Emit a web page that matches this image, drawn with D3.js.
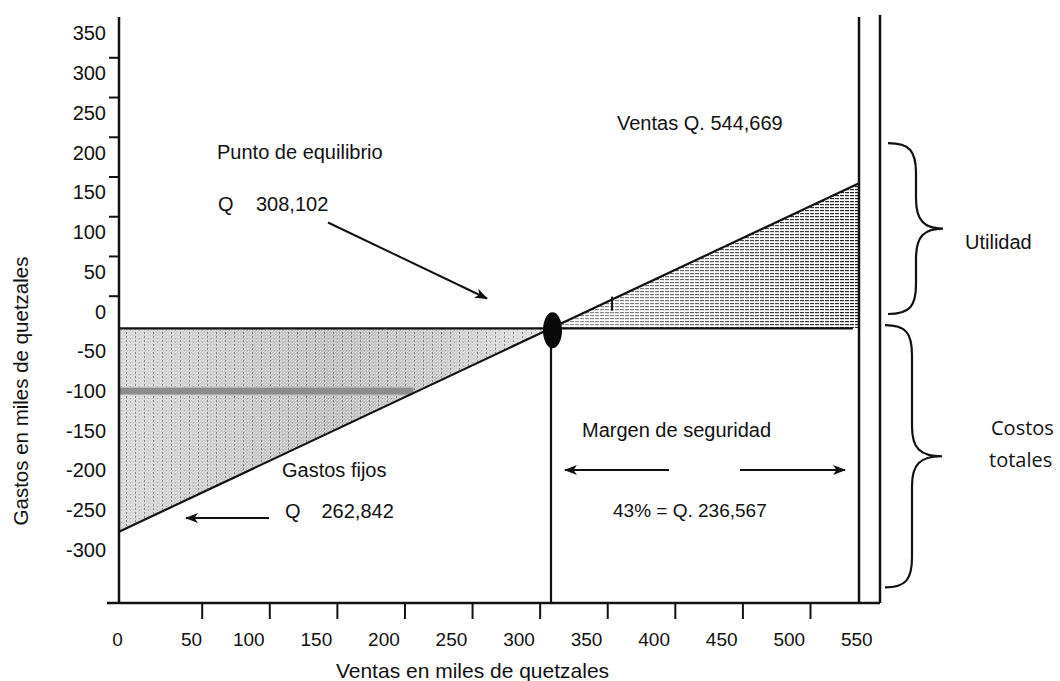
<!DOCTYPE html>
<html><head><meta charset="utf-8">
<script src="https://cdn.jsdelivr.net/npm/d3@7"></script>
<style>
html,body{margin:0;padding:0;background:#fff;}
svg{display:block;}
text{font-family:"Liberation Sans",Arial,sans-serif;fill:#111;}
</style>
</head><body>
<svg id="chart" width="1060" height="681"></svg>
<script>
// ---------- data ----------
const xLabelValues = [0,50,100,150,200,250,300,350,400,450,500,550];
const xTickValues  = [50,100,150,200,250,300,350,400,450,500];
const yLabelValues = [350,300,250,200,150,100,50,0,-50,-100,-150,-200,-250,-300];
const yTickValues  = [300,250,200,150,100,50,0];
const breakEvenX = 308.102;      // punto de equilibrio (miles Q)
const salesX     = 544.669;      // ventas (miles Q)
const costLevel  = -21;          // horizontal line level
const salesLineStart = -277;     // diagonal at x = 0
const salesLineEnd   = 161.5;    // diagonal at x = ventas
const hLineEndX  = 540;          // horizontal line right end
const bandY = -100, bandEndX = 210;   // dark band in fixed-cost area
const lineMarkX = 355;           // small mark on the diagonal
const utilidadSpan = [212, -3];
const costosSpan   = [-17, -347];

// ---------- setup ----------
const svg = d3.select("#chart");
const frame = {left:119, top:17, bottom:603, right:880, axisLeftExt:107};

const y  = d3.scaleLinear().domain([350,-300]).range([33.5,550]);
const yT = d3.scaleLinear().domain([300,0]).range([57.3,295.7]);
const x  = d3.scaleLinear().domain([0,breakEvenX,salesX]).range([119,551,859]);
const xL = d3.scaleLinear().domain([0,50,100,550]).range([117,191,248.3,856.3]);
const xT = d3.scaleLinear().domain([50,500]).range([201.7,810]);

const defs = svg.append("defs");
const gl = defs.append("linearGradient").attr("id","gradL").attr("gradientUnits","userSpaceOnUse")
  .attr("x1",x(0)).attr("x2",x(breakEvenX)).attr("y1",0).attr("y2",0);
[[0,"#d8d8d8"],[0.25,"#cbcbcb"],[0.5,"#bfbfbf"],[0.75,"#cacaca"],[1,"#e6e6e6"]]
  .forEach(d=>gl.append("stop").attr("offset",d[0]).attr("stop-color",d[1]));
const ps = defs.append("pattern").attr("id","streaks").attr("patternUnits","userSpaceOnUse")
  .attr("width",9).attr("height",4);
ps.append("rect").attr("x",0).attr("y",0).attr("width",1).attr("height",2).attr("fill","#666");
ps.append("rect").attr("x",4).attr("y",2).attr("width",1).attr("height",1).attr("fill","#888");
const pw = defs.append("pattern").attr("id","speck").attr("patternUnits","userSpaceOnUse")
  .attr("width",3).attr("height",3);
pw.append("rect").attr("x",1).attr("y",1).attr("width",1).attr("height",1).attr("fill","#fff");
pw.append("rect").attr("x",2).attr("y",0).attr("width",1).attr("height",1).attr("fill","#f4f4f4");
const ph = defs.append("pattern").attr("id","hatch").attr("patternUnits","userSpaceOnUse")
  .attr("width",5).attr("height",3);
ph.append("rect").attr("x",0).attr("y",0).attr("width",4).attr("height",1.2).attr("fill","#222");
const gm = defs.append("linearGradient").attr("id","gradM").attr("gradientUnits","userSpaceOnUse")
  .attr("x1",x(breakEvenX)).attr("x2",x(salesX)).attr("y1",0).attr("y2",0);
gm.append("stop").attr("offset",0).attr("stop-color","#fff").attr("stop-opacity",0.45);
gm.append("stop").attr("offset",1).attr("stop-color","#fff").attr("stop-opacity",1);
defs.append("mask").attr("id","maskR").append("rect")
  .attr("x",0).attr("y",0).attr("width",1060).attr("height",681).attr("fill","url(#gradM)");
defs.append("marker").attr("id","arr").attr("viewBox","0 0 13 10")
  .attr("refX",12).attr("refY",5).attr("markerWidth",13).attr("markerHeight",10)
  .attr("markerUnits","userSpaceOnUse").attr("orient","auto")
  .append("path").attr("d","M0,0 L13,5 L0,10 L3.5,5 Z").attr("fill","#111");

const lineY = v => salesLineStart + (salesLineEnd - salesLineStart) * (v / salesX);

// ---------- areas ----------
const leftTri = [[0,costLevel],[breakEvenX,costLevel],[0,salesLineStart]];
const area = d3.line().x(d=>x(d[0])).y(d=>y(d[1]));
svg.append("path").attr("d",area(leftTri)+"Z").attr("fill","url(#gradL)");
svg.append("path").attr("d",area(leftTri)+"Z").attr("fill","url(#streaks)").attr("opacity",0.7);
svg.append("path").attr("d",area(leftTri)+"Z").attr("fill","url(#speck)").attr("opacity",0.6);
svg.append("rect").attr("x",x(0)).attr("width",x(bandEndX)-x(0))
  .attr("y",y(bandY)-3.5).attr("height",7).attr("fill","#8c8c8c");

const rightTri = [[breakEvenX,costLevel],[salesX,costLevel],[salesX,salesLineEnd]];
svg.append("path").attr("d",area(rightTri)+"Z").attr("fill","url(#hatch)").attr("mask","url(#maskR)");

// ---------- axes ----------
const fmt = d => String(d);
const gY = svg.append("g").attr("transform",`translate(${frame.left},0)`)
  .call(d3.axisLeft(y).tickValues(yLabelValues).tickFormat(fmt).tickSize(0).tickPadding(13));
gY.select(".domain").remove();
gY.selectAll("text").attr("font-size",20).attr("font-family","Liberation Sans, Arial");
const gYt = svg.append("g").attr("transform",`translate(${frame.left+1},0)`)
  .call(d3.axisLeft(yT).tickValues(yTickValues).tickSize(11).tickFormat(""));
gYt.select(".domain").remove();
gYt.selectAll("line").attr("stroke","#111").attr("stroke-width",2);

const gX = svg.append("g").attr("transform",`translate(0,${frame.bottom})`)
  .call(d3.axisBottom(xL).tickValues(xLabelValues).tickFormat(fmt).tickSize(0).tickPadding(29.5));
gX.select(".domain").remove();
gX.selectAll("text").attr("font-size",19).attr("font-family","Liberation Sans, Arial");
const gXt = svg.append("g").attr("transform",`translate(0,${frame.bottom})`)
  .call(d3.axisBottom(xT).tickValues(xTickValues).tickSize(16).tickFormat(""));
gXt.select(".domain").remove();
gXt.selectAll("line").attr("stroke","#111").attr("stroke-width",2);

const L = (x1,y1,x2,y2,w=2)=>svg.append("line").attr("x1",x1).attr("y1",y1).attr("x2",x2).attr("y2",y2)
  .attr("stroke","#111").attr("stroke-width",w);
L(frame.left,frame.top,frame.left,frame.bottom,2.5);
L(frame.axisLeftExt,frame.bottom,frame.right,frame.bottom,2.5);
L(frame.right,15,frame.right,frame.bottom,2.5);
L(x(salesX),frame.top,x(salesX),frame.bottom,2.5);

// ---------- lines ----------
L(x(0),y(costLevel),x(hLineEndX),y(costLevel),2.2);
svg.append("path").attr("d",area([[0,salesLineStart],[salesX,salesLineEnd]]))
  .attr("stroke","#111").attr("stroke-width",2.2).attr("fill","none");
L(x(breakEvenX),y(costLevel),x(breakEvenX),frame.bottom,2.2);
L(x(lineMarkX),y(lineY(lineMarkX))-8,x(lineMarkX),y(lineY(lineMarkX))+6,2);
svg.append("ellipse").attr("cx",x(breakEvenX)+1.5).attr("cy",y(costLevel)+2)
  .attr("rx",9.5).attr("ry",18).attr("fill","#0a0a0a");

// ---------- annotations ----------
const T = (tx,ty,s,size=20,fam)=>{const t=svg.append("text").attr("x",tx).attr("y",ty)
  .attr("font-size",size).text(s); if(fam) t.style("font-family",fam); return t;};
T(217,159,"Punto de equilibrio");
T(218,210.5,"Q"); T(256,210.5,"308,102");
T(617,129.5,"Ventas Q. 544,669");
T(282,477,"Gastos fijos");
T(285,517.5,"Q"); T(321.5,517.5,"262,842");
T(582,437,"Margen de seguridad");
T(613,516.5,"43% = Q. 236,567",19);
T(965,249,"Utilidad");
T(991,435,"Costos",20,"'Open Sans', sans-serif");
T(989,467,"totales",20,"'Open Sans', sans-serif");

svg.append("text").attr("transform","translate(28,391) rotate(-90)").attr("text-anchor","middle")
  .attr("font-size",20.5).text("Gastos en miles de quetzales");
svg.append("text").attr("x",472.5).attr("y",678).attr("text-anchor","middle")
  .attr("font-size",21).text("Ventas en miles de quetzales");

const A = (x1,y1,x2,y2)=>L(x1,y1,x2,y2,2).attr("marker-end","url(#arr)");
A(328,222.5,487,298.5);
A(269,518,186,518);
A(669,470,565,470);
A(740,470,845,470);

function brace(x0, y1, y2, xm, xt){
  const ym=(y1+y2)/2, r=30;
  return `M${x0},${y1} C${xm-6},${y1} ${xm},${y1+8} ${xm},${y1+r}`+
    ` L${xm},${ym-r} C${xm},${ym-8} ${xm+8},${ym} ${xt},${ym}`+
    ` C${xm+8},${ym} ${xm},${ym+8} ${xm},${ym+r}`+
    ` L${xm},${y2-r} C${xm},${y2-8} ${xm-6},${y2} ${x0},${y2}`;
}
svg.append("path").attr("d",brace(888,y(utilidadSpan[0]),y(utilidadSpan[1]),916,943))
  .attr("fill","none").attr("stroke","#111").attr("stroke-width",2.2);
svg.append("path").attr("d",brace(885,y(costosSpan[0]),y(costosSpan[1]),912,942))
  .attr("fill","none").attr("stroke","#111").attr("stroke-width",2.2);
</script>
</body></html>
